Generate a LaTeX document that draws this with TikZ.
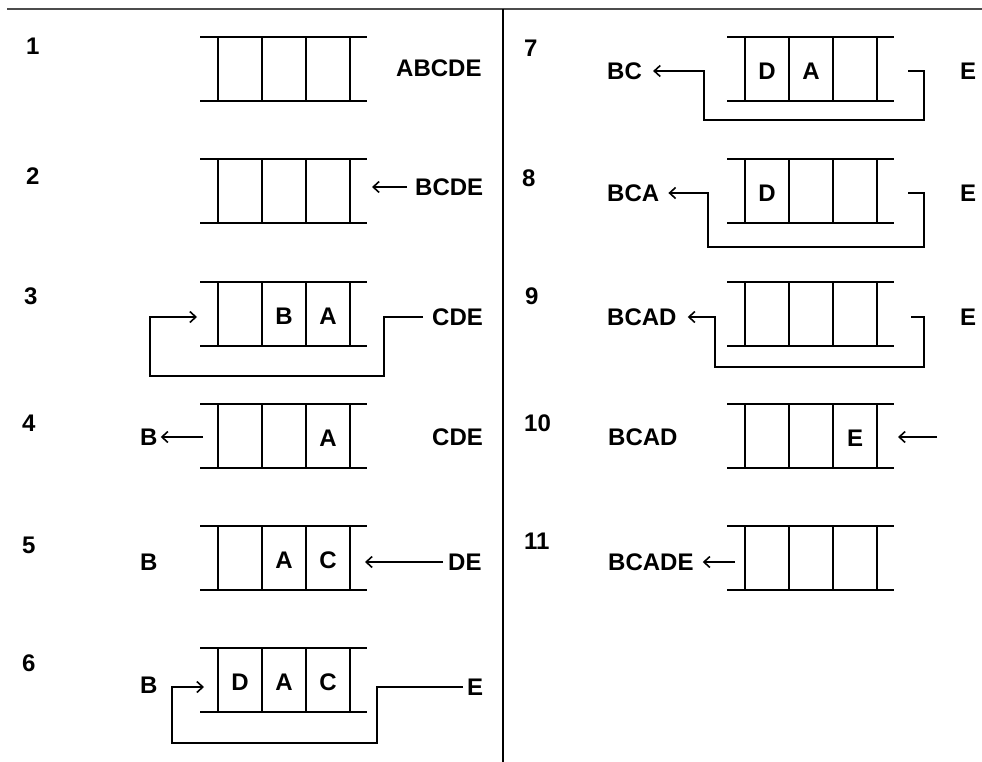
\documentclass[tikz,border=0pt]{standalone}
\usepackage{fontspec}
\setmainfont{Liberation Sans}
\usetikzlibrary{calc}
\usetikzlibrary{positioning, arrows.meta}

\begin{document}
\begin{tikzpicture}[x=1pt, y=-1pt,
    wall/.style={line width=1.8pt},
    push/.style={line width=1.6pt, -{Straight Barb[length=6pt, width=11pt, line width=1.6pt]}},
    txt/.style={inner sep=0pt, font=\fontsize{24}{28}\selectfont\bfseries},
    lbl/.style={txt, anchor=west},
    stepno/.style={txt, anchor=north west}]
    \useasboundingbox (0,0) rectangle (982,762);
    % frame
    \draw [line width=2.5pt, black!70] (7,9) -- (982,9);
    \draw [line width=2pt] (503,9) -- (503,762);
    % the eleven stacks
    \foreach \n/\x/\y in {1/218/37, 2/218/159, 3/218/282, 4/218/404, 5/218/526, 6/218/648,
                          7/745/37, 8/745/159, 9/745/282, 10/745/404, 11/745/526} {
        \draw [wall] (\x-18,\y) -- (\x+149,\y) (\x-18,\y+64) -- (\x+149,\y+64);
        \foreach \k in {0,1,2,3} \draw [wall] (\x+44*\k,\y) -- (\x+44*\k,\y+64);
        \foreach \k in {1,2,3} \coordinate (s\n-\k) at (\x+44*\k-22,\y+34);
    }
    % step numbers
    \node [stepno] (step1) at (26,38) {1};
    \node [stepno] (step2) at (26,168) {2};
    \node [stepno] (step3) at (24,288) {3};
    \node [stepno] (step4) at (22,415) {4};
    \node [stepno] (step5) at (22,537) {5};
    \node [stepno] (step6) at (22,655) {6};
    \node [stepno] (step7) at (524,40) {7};
    \node [stepno] (step8) at (522,170) {8};
    \node [stepno] (step9) at (525,288) {9};
    \node [stepno] (step10) at (524,415) {10};
    \node [stepno] (step11) at (524,533) {11};
    % cars still waiting (right) and cars gone (left)
    \node [lbl] (rest1) at (396,68) {ABCDE};
    \node [lbl] (rest2) at (415,187) {BCDE};
    \node [lbl] (rest3) at (432,317) {CDE};
    \node [lbl] (rest4) at (432,437) {CDE};
    \node [lbl] (rest5) at (448,562) {DE};
    \node [lbl] (rest6) at (467,687) {E};
    \node [lbl] (rest7) at (960,71) {E};
    \node [lbl] (rest8) at (960,193) {E};
    \node [lbl] (rest9) at (960,317) {E};
    \node [lbl] (done4) at (140,437) {B};
    \node [lbl] (done5) at (140,562) {B};
    \node [lbl] (done6) at (140,685) {B};
    \node [lbl] (done7) at (607,71) {BC};
    \node [lbl] (done8) at (607,193) {BCA};
    \node [lbl] (done9) at (607,317) {BCAD};
    \node [lbl] (done10) at (608,437) {BCAD};
    \node [lbl] (done11) at (608,562) {BCADE};
    % cars inside the stacks
    \node [txt] (s3-B) at (s3-2) {B};
    \node [txt] (s3-A) at (s3-3) {A};
    \node [txt] (s4-A) at (s4-3) {A};
    \node [txt] (s5-A) at (s5-2) {A};
    \node [txt] (s5-C) at (s5-3) {C};
    \node [txt] (s6-D) at (s6-1) {D};
    \node [txt] (s6-A) at (s6-2) {A};
    \node [txt] (s6-C) at (s6-3) {C};
    \node [txt] (s7-D) at (s7-1) {D};
    \node [txt] (s7-A) at (s7-2) {A};
    \node [txt] (s8-D) at (s8-1) {D};
    \node [txt] (s10-E) at (s10-3) {E};
    % free ends of the moves
    \coordinate (s2-in) at (372,187);
    \coordinate (s3-back) at (197,317);
    \coordinate (s4-out) at (203,437);
    \coordinate (s5-in) at (365,562);
    \coordinate (s6-back) at (204,687);
    \coordinate (s7-tail) at (908,71);
    \coordinate (s8-tail) at (908,193);
    \coordinate (s9-tail) at (911,317);
    \coordinate (s10-feed) at (937,437);
    \coordinate (s10-in) at (898,437);
    \coordinate (s11-out) at (735,562);
    % moves
    \draw [push, shorten <=8pt] (rest2) -- (s2-in);
    \draw [push, shorten <=9pt] (rest3.west) -- ++(-48,0) -- ++(0,59) -- ++(-234,0) |- (s3-back);
    \draw [push, shorten >=3pt] (s4-out) -- (done4);
    \draw [push, shorten <=5pt] (rest5) -- (s5-in);
    \draw [push, shorten <=4pt] (rest6.west) -- ++(-90,0) -- ++(0,56) -- ++(-205,0) |- (s6-back);
    \draw [push, shorten >=11pt] (s7-tail) -- ++(16,0) -- ++(0,49) -- ++(-220,0) |- (done7);
    \draw [push, shorten >=9pt] (s8-tail) -- ++(16,0) -- ++(0,54) -- ++(-216,0) |- (done8);
    \draw [push, shorten >=11pt] (s9-tail) -- ++(13,0) -- ++(0,50) -- ++(-209,0) |- (done9);
    \draw [push] (s10-feed) -- (s10-in);
    \draw [push, shorten >=9pt] (s11-out) -- (done11);
\end{tikzpicture}
\end{document}
